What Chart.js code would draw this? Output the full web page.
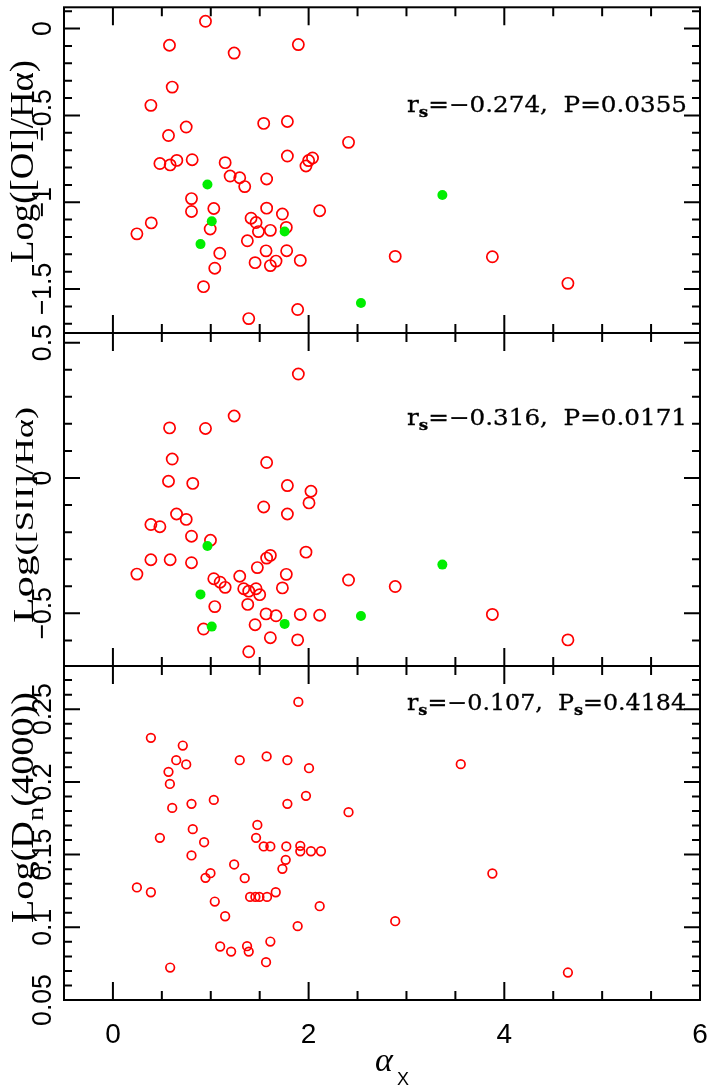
<!DOCTYPE html>
<html>
<head>
<meta charset="utf-8">
<script src="https://cdn.jsdelivr.net/npm/chart.js@4/dist/chart.umd.min.js"></script>
<style>
  body { margin: 0; background: #fff; }
  #wrap { position: relative; width: 708px; height: 1088px; background: #fff; }
  #wrap canvas { position: absolute; left: 0; top: 0; }
</style>
</head>
<body>
<div id="wrap">
  <canvas id="pOI" width="708" height="1088"></canvas>
  <canvas id="pSII" width="708" height="1088"></canvas>
  <canvas id="pDn" width="708" height="1088"></canvas>
</div>
<script>
// ---- data ----
// top panel: Log([OI]/Ha) vs alpha_X
const oiOpenX = [0.946, 0.578, 1.239, 1.895, 0.606, 0.388, 1.541, 1.783, 0.749, 0.568, 2.408, 0.480, 0.585, 0.653,
  0.810, 1.147, 1.783, 2.000, 2.040, 1.973, 1.198, 1.296, 1.347, 1.571, 0.803, 0.803, 1.031, 0.392, 0.245, 0.994,
  1.571, 1.732, 2.113, 1.412, 1.463, 1.487, 1.609, 1.772, 1.374, 1.565, 1.776, 1.092, 1.453, 1.609, 1.667, 1.915,
  1.041, 0.926, 1.888, 1.388, 2.885, 3.878, 4.650];
const oiOpenY = [0.042, -0.096, -0.141, -0.092, -0.337, -0.442, -0.546, -0.535, -0.567, -0.616, -0.655, -0.777, -0.785, -0.759,
  -0.755, -0.772, -0.734, -0.760, -0.745, -0.791, -0.849, -0.859, -0.910, -0.866, -0.979, -1.053, -1.036, -1.119, -1.182, -1.154,
  -1.034, -1.068, -1.049, -1.092, -1.117, -1.169, -1.162, -1.145, -1.222, -1.280, -1.279, -1.294, -1.348, -1.365, -1.339, -1.335,
  -1.380, -1.486, -1.618, -1.670, -1.312, -1.314, -1.467];
const oiFillX = [0.966, 1.010, 0.895, 1.755, 3.367, 2.535];
const oiFillY = [-0.898, -1.109, -1.241, -1.169, -0.958, -1.580];

// middle panel: Log([SII]/Ha)
const siiOpenX = [1.895, 1.239, 0.579, 0.946, 0.606, 1.571, 0.568, 0.816, 1.783, 2.024, 2.004, 1.541, 1.783, 0.650,
  0.749, 0.388, 0.480, 0.803, 0.997, 0.388, 0.585, 0.803, 0.245, 1.973, 1.571, 1.609, 1.476, 1.296, 1.772, 1.031,
  1.096, 1.147, 1.337, 1.388, 1.463, 1.500, 1.732, 2.408, 1.041, 1.378, 0.926, 1.565, 1.667, 1.915, 2.113, 1.453,
  1.609, 1.888, 1.388, 2.885, 3.878, 4.650];
const siiOpenY = [0.384, 0.229, 0.185, 0.183, 0.070, 0.057, -0.012, -0.020, -0.028, -0.049, -0.092, -0.107, -0.133, -0.133,
  -0.153, -0.172, -0.180, -0.215, -0.230, -0.302, -0.302, -0.313, -0.355, -0.274, -0.296, -0.286, -0.331, -0.363, -0.356, -0.372,
  -0.385, -0.404, -0.409, -0.418, -0.409, -0.431, -0.406, -0.377, -0.475, -0.467, -0.558, -0.502, -0.509, -0.504, -0.507, -0.542,
  -0.590, -0.598, -0.642, -0.401, -0.504, -0.598];
const siiFillX = [0.966, 0.895, 1.010, 1.755, 3.367, 2.535];
const siiFillY = [-0.251, -0.430, -0.549, -0.539, -0.320, -0.510];

// bottom panel: Log(Dn(4000))
const dnOpenX = [1.895, 0.388, 0.714, 0.647, 0.749, 1.296, 1.571, 1.783, 0.568, 0.582, 2.004, 1.031, 0.803, 0.606,
  1.783, 1.973, 2.408, 1.476, 0.816, 0.480, 1.463, 0.932, 1.541, 1.609, 1.772, 1.915, 1.915, 2.024, 2.126, 0.803,
  1.766, 1.732, 1.239, 0.997, 0.946, 1.347, 0.245, 0.388, 1.664, 1.402, 1.456, 1.497, 1.575, 1.041, 2.113, 1.147,
  1.888, 1.609, 1.096, 1.371, 1.388, 1.208, 1.565, 0.585, 3.555, 3.878, 2.885, 4.650];
const dnOpenY = [0.2550, 0.2303, 0.2250, 0.2149, 0.2120, 0.2149, 0.2175, 0.2149, 0.2069, 0.1986, 0.2094, 0.1876, 0.1849, 0.1821,
  0.1849, 0.1904, 0.1792, 0.1704, 0.1675, 0.1615, 0.1615, 0.1585, 0.1556, 0.1556, 0.1556, 0.1560, 0.1523, 0.1523, 0.1523, 0.1494,
  0.1464, 0.1402, 0.1432, 0.1372, 0.1340, 0.1338, 0.1274, 0.1241, 0.1241, 0.1209, 0.1209, 0.1209, 0.1209, 0.1177, 0.1145, 0.1076,
  0.1008, 0.0902, 0.0868, 0.0870, 0.0833, 0.0833, 0.0760, 0.0723, 0.2122, 0.1370, 0.1042, 0.0689];

// tick labels
const xTickVals = [0, 2, 4, 6];
const xTickText = ['0', '2', '4', '6'];
const oiTickVals = [0, -0.5, -1, -1.5];
const oiTickText = ['0', '\u22120.5', '\u22121', '\u22121.5'];
const siiTickVals = [0.5, 0, -0.5];
const siiTickText = ['0.5', '0', '\u22120.5'];
const dnTickVals = [0.25, 0.2, 0.15, 0.1, 0.05];
const dnTickText = ['0.25', '0.2', '0.15', '0.1', '0.05'];

// correlation notes
const oiStat = [['r'], ['s', 1], ['=\u22120.274,  P=0.0355']];
const siiStat = [['r'], ['s', 1], ['=\u22120.316,  P=0.0171']];
const dnStat = [['r'], ['s', 1], ['=\u22120.107,  P'], ['s', 1], ['=0.4184']];

function toPoints(xs, ys) {
    return xs.map((x, i) => ({ x: x, y: ys[i] }));
}

// draws a run of text pieces (with subscripts), squeezed to a given length
function drawPieces(ctx, pieces, length, heavy) {
    let total = 0;
    pieces.forEach(p => { ctx.font = p.font; total += ctx.measureText(p.t).width; });
    ctx.scale(length / total, 1);
    let x = 0;
    pieces.forEach(p => {
        ctx.font = p.font;
        ctx.fillText(p.t, x, p.dy || 0);
        if (heavy) {
            ctx.lineWidth = heavy;
            ctx.strokeText(p.t, x, p.dy || 0);
        }
        x += ctx.measureText(p.t).width;
    });
}

function statPieces(stat) {
    return stat.map(s => s[1]
        ? { t: s[0], font: 'bold 15px "DejaVu Serif"', dy: 5 }
        : { t: s[0], font: '22px "DejaVu Serif"' });
}

const framePlugin = {
    id: 'frame',
    afterDatasetsDraw(chart, args, o) {
        const ctx = chart.ctx;
        const a = chart.chartArea;
        const xs = chart.scales.x;
        const ys = chart.scales.y;
        ctx.save();
        ctx.strokeStyle = '#000';
        ctx.fillStyle = '#000';
        ctx.lineWidth = 2;
        ctx.strokeRect(a.left, a.top, a.right - a.left, a.bottom - a.top);

        // inward ticks on all four sides
        ctx.beginPath();
        for (let k = 0; k <= 12; k++) {
            const px = xs.getPixelForValue(k * 0.5);
            if (px >= a.right - 1) continue;
            const len = k % 4 === 0 ? 18 : 9;
            ctx.moveTo(px, a.top); ctx.lineTo(px, a.top + len);
            ctx.moveTo(px, a.bottom); ctx.lineTo(px, a.bottom - len);
        }
        const k0 = Math.ceil(ys.min / o.minor - 1e-6);
        const k1 = Math.floor(ys.max / o.minor + 1e-6);
        for (let k = k0; k <= k1; k++) {
            const py = ys.getPixelForValue(k * o.minor);
            if (py <= a.top + 1 || py >= a.bottom - 1) continue;
            const len = k % o.every === 0 ? 16 : 8;
            ctx.moveTo(a.left, py); ctx.lineTo(a.left + len, py);
            ctx.moveTo(a.right, py); ctx.lineTo(a.right - len, py);
        }
        ctx.stroke();

        // y tick labels, turned to read upwards
        ctx.font = '28px "Liberation Sans"';
        ctx.textAlign = 'center';
        ctx.textBaseline = 'alphabetic';
        o.tickVals.forEach((v, i) => {
            ctx.save();
            ctx.translate(51, ys.getPixelForValue(v));
            ctx.rotate(-Math.PI / 2);
            ctx.scale(0.95, 1);
            ctx.fillText(o.tickText[i], 0, 0);
            ctx.restore();
        });

        // x tick labels + axis title on the bottom panel only
        if (o.xLabels) {
            xTickVals.forEach((v, i) => {
                ctx.fillText(xTickText[i], xs.getPixelForValue(v), 1043);
            });
            ctx.textAlign = 'left';
            ctx.font = 'italic 34px "Liberation Serif"';
            ctx.fillText('\u03b1', 375, 1071);
            ctx.font = '18px "Liberation Sans"';
            ctx.fillText('X', 397, 1085);
        }

        // axis title
        ctx.textAlign = 'left';
        ctx.save();
        ctx.translate(33, o.title.start);
        ctx.rotate(-Math.PI / 2);
        drawPieces(ctx, o.title.pieces, o.title.length, 0);
        ctx.restore();

        // spearman note
        ctx.save();
        ctx.translate(o.stat.left, o.stat.base);
        drawPieces(ctx, statPieces(o.stat.text), o.stat.width, 0.3);
        ctx.restore();

        ctx.restore();
    }
};

function makePanel(id, top, bottom, ymin, ymax, datasets, frame) {
    return new Chart(document.getElementById(id), {
        type: 'scatter',
        data: { datasets: datasets },
        options: {
            responsive: false,
            animation: false,
            events: [],
            layout: { padding: { left: 64, right: 8, top: top, bottom: 1088 - bottom } },
            scales: {
                x: { type: 'linear', display: false, min: -0.5, max: 6 },
                y: { type: 'linear', display: false, min: ymin, max: ymax }
            },
            plugins: { legend: { display: false }, tooltip: { enabled: false }, frame: frame }
        },
        plugins: [framePlugin]
    });
}

function filled(xs, ys) {
    return { data: toPoints(xs, ys), pointRadius: 5, pointBorderWidth: 0,
        pointBackgroundColor: '#00ee00', pointBorderColor: '#00ee00', showLine: false };
}
function open(xs, ys, r) {
    return { data: toPoints(xs, ys), pointRadius: r, pointBorderWidth: 1.7,
        pointBackgroundColor: 'rgba(0,0,0,0)', pointBorderColor: '#ff0000', showLine: false };
}

makePanel('pOI', 1, 333, -1.753, 0.1226,
    [filled(oiFillX, oiFillY), open(oiOpenX, oiOpenY, 5.6)],
    {
        minor: 0.1, every: 5, tickVals: oiTickVals, tickText: oiTickText,
        title: { start: 263, length: 203, pieces: [{ t: 'Log([OI]/H\u03b1)', font: '34px "Liberation Serif"' }] },
        stat: { left: 407, base: 112, width: 280, text: oiStat }
    });

makePanel('pSII', 333, 666, -0.6945, 0.5356,
    [filled(siiFillX, siiFillY), open(siiOpenX, siiOpenY, 5.6)],
    {
        minor: 0.1, every: 5, tickVals: siiTickVals, tickText: siiTickText,
        title: { start: 623, length: 216, pieces: [
            { t: 'Log', font: '30px "Liberation Serif"' },
            { t: '([SII]/H\u03b1)', font: '26px "Liberation Serif"' }] },
        stat: { left: 407, base: 425, width: 280, text: siiStat }
    });

makePanel('pDn', 666, 1000, 0.05, 0.2797,
    [open(dnOpenX, dnOpenY, 4.3)],
    {
        minor: 0.01, every: 5, tickVals: dnTickVals, tickText: dnTickText, xLabels: true,
        title: { start: 923, length: 231, pieces: [
            { t: 'Log(D', font: '32px "Liberation Serif"' },
            { t: 'n', font: '24px "Liberation Serif"', dy: 10 },
            { t: '(4000))', font: '32px "Liberation Serif"' }] },
        stat: { left: 407, base: 710, width: 279, text: dnStat }
    });
</script>
</body>
</html>
